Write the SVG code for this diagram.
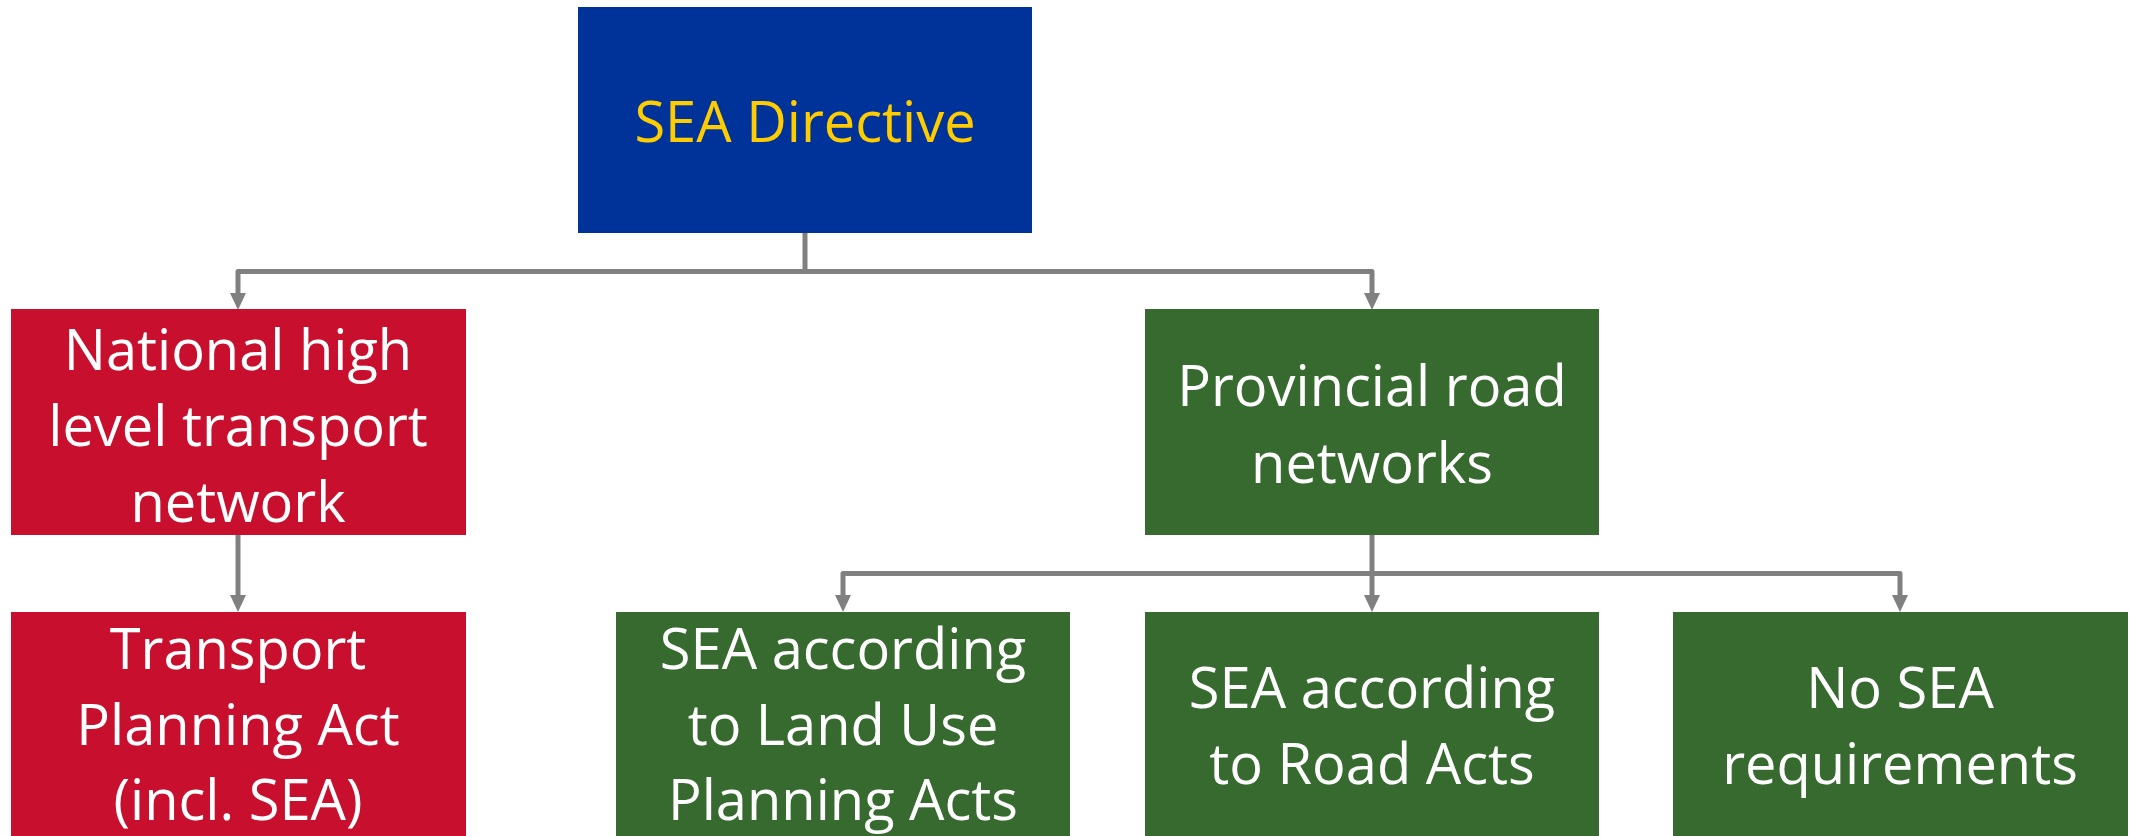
<svg xmlns="http://www.w3.org/2000/svg" width="2131" height="836" viewBox="0 0 2131 836">
  <defs>
    <style>
      .conn { fill: none; stroke: #808080; stroke-width: 5; stroke-linejoin: round; }
      .head { fill: #808080; }
      .lbl { font-family: "Open Sans", "Liberation Sans", sans-serif; font-size: 56px; text-anchor: middle; fill: #ffffff; }
      .blue { fill: #003399; }
      .red { fill: #C8102E; }
      .green { fill: #376A2F; }
    </style>
  </defs>
  <rect width="2131" height="836" fill="#ffffff"/>

  <!-- connectors: elbow lines with solid arrowheads -->
  <g id="connectors">
    <path class="conn" d="M805,233 V271.5"/>
    <path class="conn" d="M238,294 V271.5 H1372 V294"/>
    <path class="head" d="M230,293 L246,293 L238,310 Z M1364,293 L1380,293 L1372,310 Z"/>

    <path class="conn" d="M238,535 V596"/>
    <path class="head" d="M230,595 L246,595 L238,612 Z"/>

    <path class="conn" d="M1372,535 V596"/>
    <path class="conn" d="M843,596 V573.5 H1900 V596"/>
    <path class="head" d="M835,595 L851,595 L843,612 Z M1364,595 L1380,595 L1372,612 Z M1892,595 L1908,595 L1900,612 Z"/>
  </g>

  <!-- top level -->
  <g id="sea-directive">
    <rect class="blue" x="578" y="7" width="454" height="226"/>
    <text class="lbl" x="805" y="142" style="fill:#FFCC00">SEA Directive</text>
  </g>

  <!-- second level -->
  <g id="national-network">
    <rect class="red" x="11" y="309" width="455" height="226"/>
    <text class="lbl" x="238" y="370">National high</text>
    <text class="lbl" x="238" y="446">level transport</text>
    <text class="lbl" x="238" y="522">network</text>
  </g>

  <g id="provincial-roads">
    <rect class="green" x="1145" y="309" width="454" height="226"/>
    <text class="lbl" x="1372" y="406">Provincial road</text>
    <text class="lbl" x="1372" y="483">networks</text>
  </g>

  <!-- third level -->
  <g id="transport-planning-act">
    <rect class="red" x="11" y="612" width="455" height="224"/>
    <text class="lbl" x="238" y="669">Transport</text>
    <text class="lbl" x="238" y="745">Planning Act</text>
    <text class="lbl" x="238" y="820">(incl. SEA)</text>
  </g>

  <g id="land-use-acts">
    <rect class="green" x="616" y="612" width="454" height="224"/>
    <text class="lbl" x="843" y="669">SEA according</text>
    <text class="lbl" x="843" y="745">to Land Use</text>
    <text class="lbl" x="843" y="820">Planning Acts</text>
  </g>

  <g id="road-acts">
    <rect class="green" x="1145" y="612" width="454" height="224"/>
    <text class="lbl" x="1372" y="708">SEA according</text>
    <text class="lbl" x="1372" y="784">to Road Acts</text>
  </g>

  <g id="no-sea">
    <rect class="green" x="1673" y="612" width="455" height="224"/>
    <text class="lbl" x="1900" y="708">No SEA</text>
    <text class="lbl" x="1900" y="784">requirements</text>
  </g>
</svg>
